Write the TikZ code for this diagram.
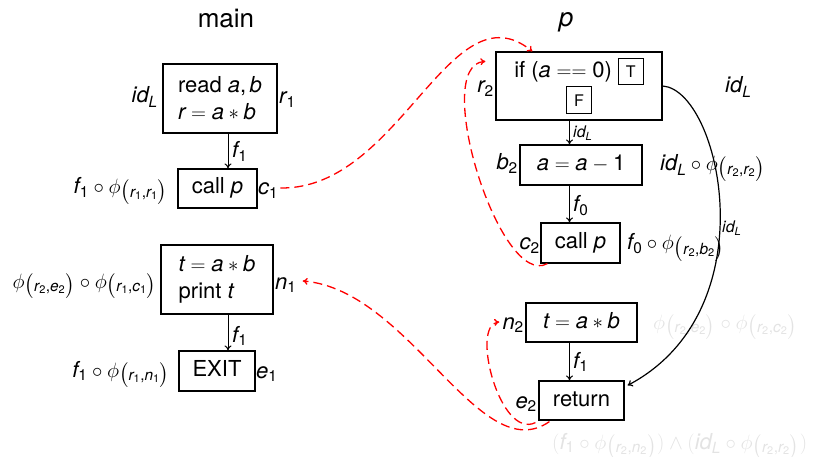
\documentclass[tikz,border=0pt]{standalone}
\usepackage{amsmath}
\usepackage{fontspec}
\setmainfont{TeX Gyre Heros}
\usetikzlibrary{arrows.meta,calc}
\newcommand\mv[1]{\textit{#1}}
\newcommand\dg[1]{\textup{#1}}
\newcommand\cm{\mathpunct{\textup{,}}}
\newcommand\sub[1]{\smash{\bigl(}#1\smash{\bigr)}}
\newcommand\tfbox[1]{{\fontsize{16}{16}\selectfont\setlength\fboxsep{7pt}\setlength\fboxrule{1pt}\fbox{#1}}}
\definecolor{faded}{gray}{0.89}
\begin{document}
\begin{tikzpicture}[x=1pt,y=-1pt,
  every node/.style={font=\fontsize{22}{27}\selectfont, inner sep=0pt},
  blk/.style={draw, line width=1.2pt},
  one/.style={blk, text height=16pt, text depth=5pt},
  small/.style={font=\fontsize{16}{19}\selectfont},
  title/.style={font=\fontsize{26}{30}\selectfont},
  flow/.style={-{To[length=5pt,width=7pt]}, line width=1pt},
  callarrow/.style={red, dash pattern=on 9pt off 5pt, line width=1.3pt, -{To[length=5pt,width=7pt]}},
  fade/.style={text=faded}
]
\useasboundingbox (0,0) rectangle (830,457);
% titles
\node[title, anchor=base] (tmain) at (226,28) {main};
\node[title, anchor=base] (tp) at (566,27) {$\mv{p}$};
% main boxes
\node[blk, align=left, minimum width=114pt, minimum height=69pt] (b1) at (220,98.5) {read $\mv{a}\cm\mv{b}$\\$\mv{r}=\mv{a}*\mv{b}$};
\node[one, minimum width=79pt, minimum height=39pt] (call1) at (217.5,188.5) {call $\mv{p}$};
\node[blk, align=left, minimum width=112pt, minimum height=69pt] (b3) at (217,279.5) {$\mv{t}=\mv{a}*\mv{b}$\\print $\mv{t}$};
\node[one, minimum width=76pt, minimum height=40pt] (exit) at (217,371) {EXIT};
% p boxes
\node[blk, align=center, minimum width=166pt, minimum height=68pt] (if) at (579,86) {if ($\mv{a}==\dg{0}$) \tfbox{T}\\\tfbox{F}};
\node[one, minimum width=122pt, minimum height=40pt] (b2) at (581,165) {$\mv{a}=\mv{a}-\dg{1}$};
\node[one, minimum width=79pt, minimum height=40pt] (call2) at (580.5,243) {call $\mv{p}$};
\node[one, minimum width=111pt, minimum height=39pt] (n2) at (581.5,322.5) {$\mv{t}=\mv{a}*\mv{b}$};
\node[one, minimum width=85pt, minimum height=39pt] (ret) at (581.5,400.5) {return};
% main labels
\node[anchor=base east] (idl1) at (158,103) {$\mv{id}_{\mv{L}}$};
\node[anchor=base west] (r1l) at (279,104) {$\mv{r}_{\dg{1}}$};
\node[anchor=base east] (phi1) at (168,194) {$\mv{f}_{\dg{1}}\circ\phi_{\sub{\mv{r}_{\dg{1}}\cm\mv{r}_{\dg{1}}}}$};
\node[anchor=base west] (c1l) at (258,195) {$\mv{c}_{\dg{1}}$};
\node[anchor=base east] (phi3) at (157,288) {$\phi_{\sub{\mv{r}_{\dg{2}}\cm\mv{e}_{\dg{2}}}}\circ\phi_{\sub{\mv{r}_{\dg{1}}\cm\mv{c}_{\dg{1}}}}$};
\node[anchor=base west] (n1l) at (275,289) {$\mv{n}_{\dg{1}}$};
\node[anchor=base east] (phi4) at (170,377) {$\mv{f}_{\dg{1}}\circ\phi_{\sub{\mv{r}_{\dg{1}}\cm\mv{n}_{\dg{1}}}}$};
\node[anchor=base west] (e1l) at (256,378) {$\mv{e}_{\dg{1}}$};
% p labels
\node[anchor=base east] (r2l) at (494,93) {$\mv{r}_{\dg{2}}$};
\node[anchor=base east] (b2l) at (518,170) {$\mv{b}_{\dg{2}}$};
\node[anchor=base east] (c2l) at (540,250) {$\mv{c}_{\dg{2}}$};
\node[anchor=base west] (phic2) at (627,250) {$\mv{f}_{\dg{0}}\circ\phi_{\sub{\mv{r}_{\dg{2}}\cm\mv{b}_{\dg{2}}}}$};
\node[small, anchor=base west] (idlc) at (722,233) {$\mv{id}_{\mv{L}}$};
\node[anchor=base east] (n2l) at (524,329) {$\mv{n}_{\dg{2}}$};
\node[fade, anchor=base west] (phin2) at (653,329) {$\phi_{\sub{\mv{r}_{\dg{2}}\cm\mv{e}_{\dg{2}}}}\circ\phi_{\sub{\mv{r}_{\dg{2}}\cm\mv{c}_{\dg{2}}}}$};
\node[anchor=base east] (e2l) at (537,408) {$\mv{e}_{\dg{2}}$};
\node[fade, anchor=base west] (phie2) at (552,449) {$(\mv{f}_{\dg{1}}\circ\phi_{\sub{\mv{r}_{\dg{2}}\cm\mv{n}_{\dg{2}}}})\wedge(\mv{id}_{\mv{L}}\circ\phi_{\sub{\mv{r}_{\dg{2}}\cm\mv{r}_{\dg{2}}}})$};
\node[anchor=base west] (idlr) at (725,93) {$\mv{id}_{\mv{L}}$};
\node[anchor=base west] (phir2) at (660,171) {$\mv{id}_{\mv{L}}\circ\phi_{\sub{\mv{r}_{\dg{2}}\cm\mv{r}_{\dg{2}}}}$};
% edge labels
\node[anchor=base west] (lf1) at (232,158) {$\mv{f}_{\dg{1}}$};
\node[anchor=base west] (lf1b) at (232,342) {$\mv{f}_{\dg{1}}$};
\node[small, anchor=base west] (lid) at (573,138) {$\mv{id}_{\mv{L}}$};
\node[anchor=base west] (lf0) at (573,212) {$\mv{f}_{\dg{0}}$};
\node[anchor=base west] (lf1c) at (573,368) {$\mv{f}_{\dg{1}}$};
% flow arrows
\coordinate (lx) at (228,0);
\coordinate (rx) at (569.5,0);
\draw[flow] (b1.south -| lx) -- (call1.north -| lx);
\draw[flow] (b3.south -| lx) -- (exit.north -| lx);
\draw[flow] (if.south -| rx) -- (b2.north -| rx);
\draw[flow] (b2.south -| rx) -- (call2.north -| rx);
\draw[flow] (n2.south -| rx) -- (ret.north -| rx);
\draw[flow, line width=1.2pt] (if.east) .. controls (720,90) and (770,310) .. ($(ret.north east)+(3,5)$);
% call / return edges
\draw[callarrow] ($(c1l.east)+(2,-3)$) .. controls (400,190) and (450,-15) .. ($(if.north west)+(37,0)$);
\draw[callarrow] ($(call2.south west)+(7,0)$) .. controls (500,290) and (430,65) .. ($(if.north west)+(-10,10)$);
\draw[callarrow] ($(ret.south west)+(11,1)$) .. controls (480,470) and (410,290) .. ($(n1l.east)+(6,-4)$);
\draw[callarrow] ($(ret.south west)+(-3,2)$) .. controls (500,440) and (470,325) .. ($(n2l.west)+(-3,-3)$);
\end{tikzpicture}
\end{document}
